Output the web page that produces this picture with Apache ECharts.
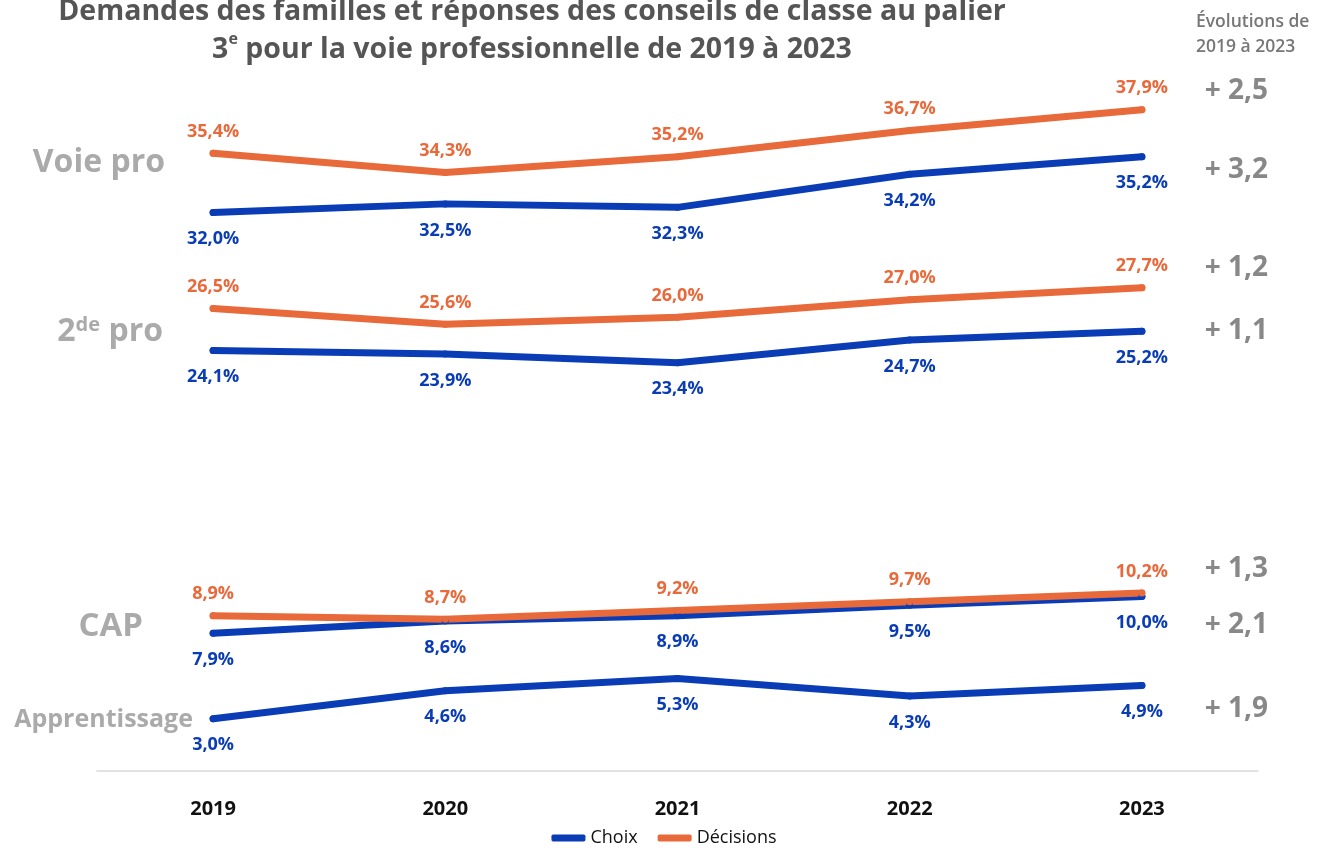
<!DOCTYPE html>
<html>
<head>
<meta charset="utf-8">
<script src="https://cdn.jsdelivr.net/npm/echarts@6/dist/echarts.min.js"></script>
<style>
  html, body { margin: 0; padding: 0; background: #fff; }
  #chart { width: 1328px; height: 852px; }
</style>
</head>
<body>
<div id="chart"></div>
<script>
const years = ['2019', '2020', '2021', '2022', '2023']

const voieProChoix = [32.0, 32.5, 32.3, 34.2, 35.2]
const voieProDecisions = [35.4, 34.3, 35.2, 36.7, 37.9]
const secondeProChoix = [24.1, 23.9, 23.4, 24.7, 25.2]
const secondeProDecisions = [26.5, 25.6, 26.0, 27.0, 27.7]
const capChoix = [7.9, 8.6, 8.9, 9.5, 10.0]
const capDecisions = [8.9, 8.7, 9.2, 9.7, 10.2]
const apprentissageChoix = [3.0, 4.6, 5.3, 4.3, 4.9]

// evolutions 2019 -> 2023, shown on the right
const evolutions = ['+ 2,5', '+ 3,2', '+ 1,2', '+ 1,1', '+ 1,3', '+ 2,1', '+ 1,9']

const BLUE = '#0a3db5'
const ORANGE = '#e8693a'
const FONT = 'Open Sans'

const fmt = p => p.value.toFixed(1).replace('.', ',') + '%'

function lineSeries(name, data, color, pos) {
    return {
        name: name,
        type: 'line',
        data: data,
        symbol: 'circle',
        symbolSize: 7,
        showSymbol: true,
        smooth: false,
        lineStyle: { width: 7, color: color, cap: 'round', join: 'round' },
        itemStyle: { color: color },
        emphasis: { disabled: true },
        label: {
            show: true,
            position: pos,
            distance: pos === 'top' ? 9 : 14,
            formatter: fmt,
            color: color,
            fontFamily: FONT,
            fontWeight: 'bold',
            fontSize: 18
        }
    }
}

const rightY = [91, 170, 268, 331, 569, 625, 709]

const chart = echarts.init(document.getElementById('chart'))
chart.setOption({
    animation: false,
    backgroundColor: '#fff',
    grid: { left: 97, right: 70, top: 73, bottom: 81 },
    legend: {
        bottom: 0,
        left: 'center',
        icon: 'roundRect',
        itemWidth: 34,
        itemHeight: 7,
        itemGap: 20,
        textStyle: { fontFamily: FONT, fontSize: 18, color: '#111' },
        data: ['Choix', 'Décisions']
    },
    xAxis: {
        type: 'category',
        data: years,
        axisLine: { lineStyle: { color: '#d9d9d9', width: 1.5 } },
        axisTick: { show: false },
        axisLabel: {
            margin: 28,
            color: '#111',
            fontFamily: FONT,
            fontWeight: 'bold',
            fontSize: 20
        }
    },
    yAxis: {
        type: 'value',
        min: 0,
        max: 40,
        show: false,
        splitLine: { show: false }
    },
    series: [
        lineSeries('Choix', apprentissageChoix, BLUE, 'bottom'),
        lineSeries('Choix', capChoix, BLUE, 'bottom'),
        lineSeries('Décisions', capDecisions, ORANGE, 'top'),
        lineSeries('Choix', secondeProChoix, BLUE, 'bottom'),
        lineSeries('Décisions', secondeProDecisions, ORANGE, 'top'),
        lineSeries('Choix', voieProChoix, BLUE, 'bottom'),
        lineSeries('Décisions', voieProDecisions, ORANGE, 'top')
    ],
    graphic: [
        {
            type: 'text',
            style: {
                x: 532, y: -7,
                text: '{t|Demandes des familles et réponses des conseils de classe au palier}\n{t|3}{s|e}{t| pour la voie professionnelle de 2019 à 2023}',
                align: 'center',
                verticalAlign: 'top',
                rich: {
                    t: { fontFamily: FONT, fontWeight: 'bold', fontSize: 28.5, fill: '#555', lineHeight: 38 },
                    s: { fontFamily: FONT, fontWeight: 'bold', fontSize: 16, fill: '#555', lineHeight: 38, verticalAlign: 'top', padding: [0, 0, 10, 0] }
                }
            }
        },
        {
            type: 'text',
            style: {
                x: 1196, y: 10,
                text: 'Évolutions de\n2019 à 2023',
                fontFamily: FONT, fontWeight: 600, fontSize: 17.5, lineHeight: 25,
                fill: '#777'
            }
        },
        { type: 'text', style: { x: 165, y: 163, text: 'Voie pro', align: 'right', verticalAlign: 'middle', fontFamily: FONT, fontWeight: 'bold', fontSize: 32, fill: '#aaa' } },
        {
            type: 'text',
            style: {
                x: 163, y: 332, text: '{a|2}{s|de}{a| pro}', align: 'right', verticalAlign: 'middle',
                rich: {
                    a: { fontFamily: FONT, fontWeight: 'bold', fontSize: 32, fill: '#aaa' },
                    s: { fontFamily: FONT, fontWeight: 'bold', fontSize: 20, fill: '#aaa', verticalAlign: 'top', padding: [0, 0, 14, 0] }
                }
            }
        },
        { type: 'text', style: { x: 143, y: 627, text: 'CAP', align: 'right', verticalAlign: 'middle', fontFamily: FONT, fontWeight: 'bold', fontSize: 33, fill: '#aaa' } },
        { type: 'text', style: { x: 193, y: 720, text: 'Apprentissage', align: 'right', verticalAlign: 'middle', fontFamily: FONT, fontWeight: 'bold', fontSize: 25, fill: '#aaa' } }
    ].concat(evolutions.map((t, i) => ({
        type: 'text',
        style: {
            x: 1268, y: rightY[i], text: t, align: 'right', verticalAlign: 'middle',
            fontFamily: FONT, fontWeight: 'bold', fontSize: 28, fill: '#888'
        }
    })))
})
</script>
</body>
</html>
